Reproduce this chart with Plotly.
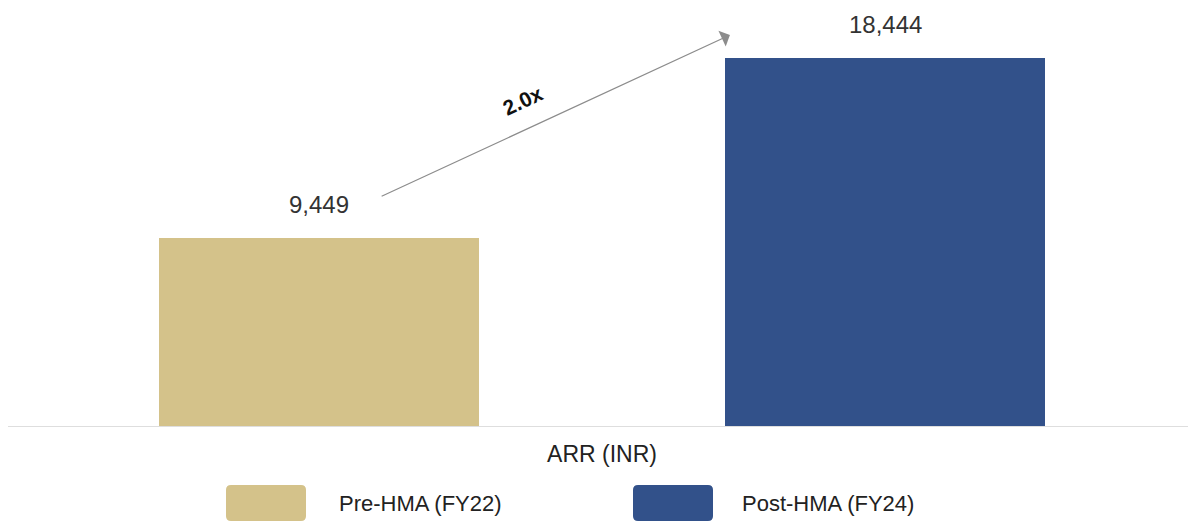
import plotly.graph_objects as go

# data
categories = ["Pre-HMA (FY22)", "Post-HMA (FY24)"]
arr_values = [9449, 18444]
bar_colors = ["#D4C28A", "#32518A"]
growth_label = "2.0x"
axis_title = "ARR (INR)"

# page body has an 8px margin, so figure is drawn 8px smaller
W, H = 1188, 514
L, R, T, B = 28, 28, 0, 95
pw, ph = W - L - R, H - T - B

fig = go.Figure()

fig.add_trace(
    go.Bar(
        x=categories,
        y=arr_values,
        marker=dict(color=bar_colors, line=dict(width=0)),
        width=0.565,
        showlegend=False,
        hoverinfo="x+y",
    )
)

# value labels above bars
for c, v in zip(categories, arr_values):
    fig.add_annotation(
        x=c, y=v, text="{:,}".format(v),
        showarrow=False, yanchor="bottom", yshift=18,
        font=dict(size=24, color="#333333"),
    )

# growth arrow
fig.add_annotation(
    x=0.726, y=19600, ax=0.108, ay=11500,
    xref="x", yref="y", axref="x", ayref="y",
    text="", showarrow=True,
    arrowhead=1, arrowsize=2.4, arrowwidth=1.2, arrowcolor="#8c8c8c",
)
fig.add_annotation(
    x=0.36, y=16350, xref="x", yref="y",
    text="<b>" + growth_label + "</b>", showarrow=False,
    textangle=-25, font=dict(size=21, color="#111111"),
)

# baseline
fig.add_shape(
    type="line", xref="paper", yref="y",
    x0=-29 / pw, x1=(W - L + 2) / pw, y0=0, y1=0,
    line=dict(color="#dedede", width=2),
)

# custom legend with large rounded swatches
def rounded_rect(x0, y0, x1, y1, rx, ry):
    return (f"M {x0+rx},{y0} L {x1-rx},{y0} Q {x1},{y0} {x1},{y0+ry} "
            f"L {x1},{y1-ry} Q {x1},{y1} {x1-rx},{y1} L {x0+rx},{y1} "
            f"Q {x0},{y1} {x0},{y1-ry} L {x0},{y0+ry} Q {x0},{y0} {x0+rx},{y0} Z")

def px_x(px):
    return (px - L) / pw

def px_y(py):
    return (H - B - py) / ph

legend_x = [218, 625]
label_gap = [111, 107]
for px, gap, c, col in zip(legend_x, label_gap, categories, bar_colors):
    fig.add_shape(
        type="path", xref="paper", yref="paper",
        path=rounded_rect(px_x(px), px_y(513), px_x(px + 80), px_y(477), 5 / pw, 5 / ph),
        fillcolor=col, line=dict(width=0),
    )
    fig.add_annotation(
        x=px_x(px + gap), y=px_y(495),
        xref="paper", yref="paper", xanchor="left", yanchor="middle",
        text=c, showarrow=False,
        font=dict(size=22, color="#222222"),
    )

fig.update_layout(
    width=W, height=H,
    margin=dict(l=L, r=R, t=T, b=B),
    plot_bgcolor="white", paper_bgcolor="white",
    font=dict(family="Liberation Sans, Arial, sans-serif", color="#333333"),
    bargap=0,
)
fig.update_xaxes(
    showticklabels=False, showgrid=False, zeroline=False, showline=False,
    title=dict(text=axis_title, font=dict(size=23, color="#222222"), standoff=18),
)
fig.update_yaxes(
    range=[0, ph / 0.02], visible=False, showgrid=False, zeroline=False,
)

fig.write_html("out.html")
